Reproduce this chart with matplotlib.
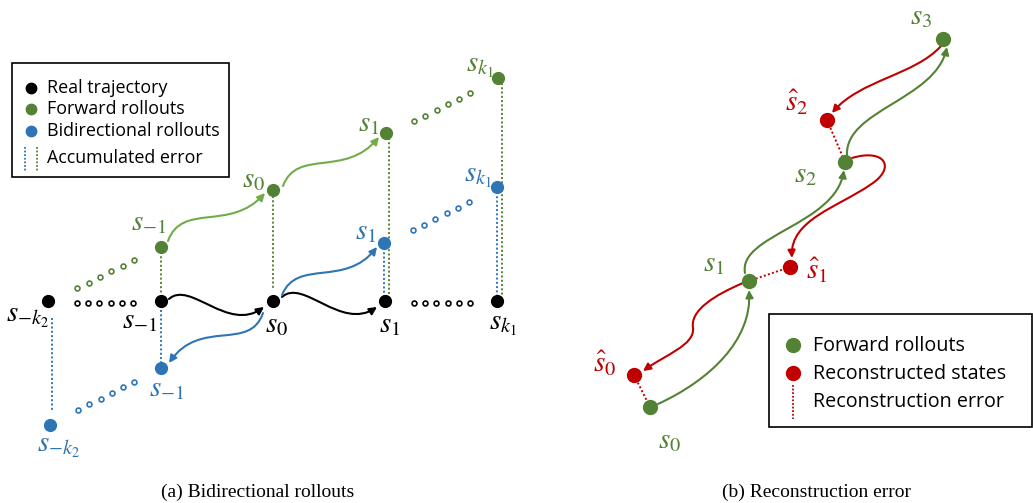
import matplotlib.pyplot as plt
from matplotlib.path import Path
from matplotlib.patches import FancyArrowPatch, Rectangle

plt.rcParams['mathtext.fontset'] = 'stix'

# colours
BLACK = 'black'
GREEN = '#548235'
LGREEN = '#70AD47'
BLUE = '#2E75B6'
RED = '#C00000'

# ---- panel (a) nodes (pixel coords, y down) ----
real_x = [48, 161, 273, 385, 497]
real_y = [301, 301, 301, 301, 301]
real_lab = [r'$s_{-k_2}$', r'$s_{-1}$', r'$s_0$', r'$s_1$', r'$s_{k_1}$']
real_lab_pos = [(28, 316), (140, 320), (277, 324), (390, 324), (503, 324)]

fwd_x = [161, 273, 386, 498]
fwd_y = [247, 190, 133, 78]
fwd_lab = [r'$s_{-1}$', r'$s_0$', r'$s_1$', r'$s_{k_1}$']
fwd_lab_pos = [(149, 222), (254, 179), (369, 123), (480, 66)]

bi_x = [50, 161, 384, 497]
bi_y = [425, 368, 243, 187]
bi_lab = [r'$s_{-k_2}$', r'$s_{-1}$', r'$s_1$', r'$s_{k_1}$']
bi_lab_pos = [(59, 446), (167, 388), (366, 231), (478, 176)]

# small open circles ("...")
dots_black_x = [77, 88, 99, 111, 122, 133, 414, 425, 436, 448, 459, 470]
dots_black_y = [303] * 12
dots_green_x = [77, 89, 100, 111, 123, 134, 414, 425, 437, 448, 459, 470]
dots_green_y = [288, 283, 277, 271, 266, 260, 121, 116, 110, 104, 99, 93]
dots_blue_x = [78, 89, 101, 112, 123, 134, 413, 424, 435, 447, 458, 469]
dots_blue_y = [410, 404, 399, 393, 387, 382, 230, 225, 219, 213, 208, 202]

# accumulated error lines: (x, y_top, y_bottom)
err_green = [(161, 252, 293), (273, 196, 290), (389, 138, 296), (502, 83, 296)]
err_blue = [(161, 310, 362), (52, 318, 412), (384, 248, 296), (497, 192, 296)]

# arrows (cubic bezier control points)
arrows_a = [
    ([(169, 299), (190, 280), (228, 333), (264, 307)], BLACK),
    ([(282, 297), (303, 278), (341, 331), (377, 307)], BLACK),
    ([(282, 295), (297, 258), (345, 288), (377, 247)], BLUE),
    ([(263, 313), (250, 352), (200, 318), (169, 363)], BLUE),
    ([(168, 241), (182, 202), (230, 232), (265, 193)], LGREEN),
    ([(283, 186), (297, 148), (345, 178), (379, 137)], LGREEN),
]

# ---- panel (b) nodes ----
b_fwd_x = [650, 749, 845, 943]
b_fwd_y = [407, 281, 162, 39]
b_fwd_lab = [r'$s_0$', r'$s_1$', r'$s_2$', r'$s_3$']
b_fwd_lab_pos = [(670, 440), (714, 263), (806, 174), (921, 16)]

b_rec_x = [634, 790, 827]
b_rec_y = [375, 267, 120]
b_rec_lab = [r'$\hat{s}_0$', r'$\hat{s}_1$', r'$\hat{s}_2$']
b_rec_lab_pos = [(605, 364), (817, 271), (797, 103)]

arrows_b = [
    ([(658, 404), (710, 380), (752, 340), (749, 290)], GREEN),
    ([(745, 273), (738, 235), (835, 225), (844, 170)], GREEN),
    ([(847, 155), (845, 110), (935, 100), (947, 47)], GREEN),
    ([(941, 46), (915, 75), (860, 80), (832, 113)], RED),
    ([(852, 158), (885, 148), (897, 168), (870, 185),
      (838, 207), (790, 220), (792, 258)], RED),
    ([(743, 283), (715, 295), (690, 310), (693, 328),
      (695, 345), (665, 355), (643, 371)], RED),
]


def bez_arrow(ax, pts, color):
    codes = [Path.MOVETO] + [Path.CURVE4] * (len(pts) - 1)
    p = FancyArrowPatch(path=Path(pts, codes), arrowstyle='-|>',
                        mutation_scale=11, color=color, lw=1.5, zorder=2)
    ax.add_patch(p)


fig = plt.figure(figsize=(10.33, 5.03), dpi=100)
ax = fig.add_axes([0, 0, 1, 1])
ax.set_xlim(0, 1033)
ax.set_ylim(503, 0)
ax.axis('off')

DOT = dict(linestyle='none', marker='o', zorder=4)
SMALL = dict(linestyle='none', marker='o', markersize=3.5, markerfacecolor='white',
             markeredgewidth=1.2, zorder=3)
ERR = dict(linestyle=(0, (1, 1.2)), linewidth=1.4, zorder=1)

# panel (a)
for (x, y0, y1) in err_green:
    ax.plot([x, x], [y0, y1], color=GREEN, **ERR)
for (x, y0, y1) in err_blue:
    ax.plot([x, x], [y0, y1], color=BLUE, **ERR)

ax.plot(dots_black_x, dots_black_y, markeredgecolor=BLACK, **SMALL)
ax.plot(dots_green_x, dots_green_y, markeredgecolor=GREEN, **SMALL)
ax.plot(dots_blue_x, dots_blue_y, markeredgecolor=BLUE, **SMALL)

ax.plot(real_x, real_y, color=BLACK, markersize=8.5, **DOT)
ax.plot(fwd_x, fwd_y, color=GREEN, markersize=8.5, **DOT)
ax.plot(bi_x, bi_y, color=BLUE, markersize=8.5, **DOT)

for pts, c in arrows_a:
    bez_arrow(ax, pts, c)

LAB = dict(fontsize=21, ha='center', va='center')
for t, (x, y) in zip(real_lab, real_lab_pos):
    ax.text(x, y, t, color=BLACK, **LAB)
for t, (x, y) in zip(fwd_lab, fwd_lab_pos):
    ax.text(x, y, t, color=GREEN, **LAB)
for t, (x, y) in zip(bi_lab, bi_lab_pos):
    ax.text(x, y, t, color=BLUE, **LAB)

# legend (a)
ax.add_patch(Rectangle((12, 63), 217, 114, fill=False, edgecolor='black', lw=1.2))
leg_a = [('Real trajectory', BLACK, 88), ('Forward rollouts', GREEN, 109),
         ('Bidirectional rollouts', BLUE, 131)]
for name, c, y in leg_a:
    ax.plot([31], [y], color=c, markersize=7.5, **DOT)
    ax.text(47, y, name, fontsize=12.9, family='Open Sans', va='center')
ax.plot([25, 25], [147, 172], color=BLUE, linestyle=(0, (1, 1)), lw=1.3)
ax.plot([37, 37], [147, 172], color=GREEN, linestyle=(0, (1, 1)), lw=1.3)
ax.text(47, 158, 'Accumulated error', fontsize=12.9, family='Open Sans', va='center')

# panel (b)
for rx, ry, fx, fy in zip(b_rec_x, b_rec_y, b_fwd_x[:3], b_fwd_y[:3]):
    ax.plot([rx, fx], [ry, fy], color=RED, **ERR)

for pts, c in arrows_b:
    bez_arrow(ax, pts, c)

ax.plot(b_fwd_x, b_fwd_y, color=GREEN, markersize=10, **DOT)
ax.plot(b_rec_x, b_rec_y, color=RED, markersize=10, **DOT)

for t, (x, y) in zip(b_fwd_lab, b_fwd_lab_pos):
    ax.text(x, y, t, color=GREEN, **LAB)
for t, (x, y) in zip(b_rec_lab, b_rec_lab_pos):
    ax.text(x, y, t, color=RED, **LAB)

# legend (b)
ax.add_patch(Rectangle((769, 314), 263, 113, fill=False, edgecolor='black', lw=1.2))
ax.plot([793], [345], color=GREEN, markersize=10, **DOT)
ax.plot([793], [373], color=RED, markersize=10, **DOT)
ax.plot([793, 793], [385, 419], color=RED, linestyle=(0, (1, 1)), lw=1.3)
ax.text(813, 346, 'Forward rollouts', fontsize=14.2, family='Open Sans', va='center')
ax.text(813, 374, 'Reconstructed states', fontsize=14.2, family='Open Sans', va='center')
ax.text(813, 402, 'Reconstruction error', fontsize=14.2, family='Open Sans', va='center')

# captions
ax.text(258, 492, '(a) Bidirectional rollouts', fontsize=14, family='Liberation Serif',
        ha='center', va='center')
ax.text(817, 492, '(b) Reconstruction error', fontsize=14, family='Liberation Serif',
        ha='center', va='center')

fig.savefig('out.png', dpi=100)
